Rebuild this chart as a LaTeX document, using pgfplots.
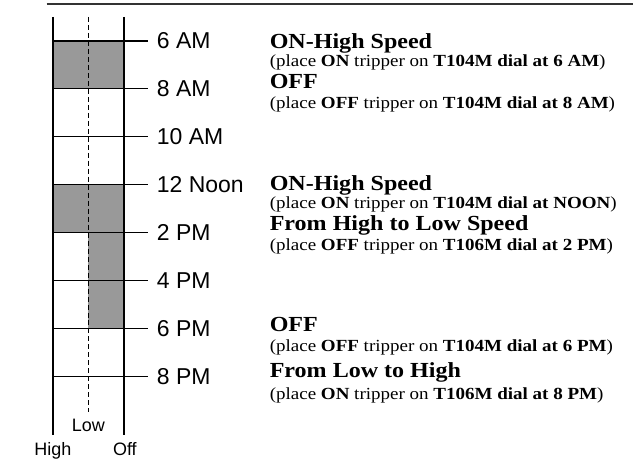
\documentclass[border=0pt]{standalone}
\usepackage{pgfplots}
\pgfplotsset{compat=1.18}
\usepackage{fontspec}
\setmainfont{Liberation Serif}
\newfontfamily\serifw{Liberation Serif}[FakeStretch=1.12]
\newfontfamily\sansf{Liberation Sans}
\definecolor{barfill}{RGB}{153,153,153}
\definecolor{rulegray}{RGB}{51,51,51}
\newcommand{\hdfont}{\serifw\bfseries\fontsize{21.5pt}{21.5pt}\selectfont}
\newcommand{\subfont}{\serifw\fontsize{17pt}{17pt}\selectfont}
\newcommand{\tlfont}{\sansf\fontsize{23pt}{23pt}\selectfont}
\newcommand{\smfont}{\sansf\fontsize{18pt}{18pt}\selectfont}
\begin{document}
\begin{tikzpicture}
\begin{axis}[
  width=634pt, height=460pt, scale only axis,
  xmin=-1.49296, xmax=16.3662,
  ymin=4.29167, ymax=23.4583, y dir=reverse,
  hide axis, clip=false,
]
\path (rel axis cs:0,0) rectangle (rel axis cs:1,1);
% top rule
\addplot[rulegray, line width=2pt] coordinates {(-0.1775,4.4583) (16.3662,4.4583)};
% schedule: 0 = High, 1 = Low, 2 = Off
\addplot[fill=barfill, draw=none] coordinates {(0,6) (2,6) (2,8) (0,8)};
\addplot[fill=barfill, draw=none] coordinates {(0,12) (2,12) (2,14) (0,14)};
\addplot[fill=barfill, draw=none] coordinates {(1,14) (2,14) (2,18) (1,18)};
% Low dashed line
\addplot[black, line width=1.1pt, dash pattern=on 5pt off 3pt] coordinates {(1,5.0) (1,21.5)};
% hour lines
\pgfplotsinvokeforeach{6,8,10,12,14,16,18,20}{
  \addplot[black, line width=1.2pt] coordinates {(0,#1) (2.676,#1)};
}
% High and Off lines
\addplot[black, line width=2.6pt] coordinates {(0,5.0) (0,22.458)};
\addplot[black, line width=2.6pt] coordinates {(2,5.0) (2,22.458)};
% hour labels
\node[anchor=west, inner sep=0, font=\tlfont] at (axis cs:2.93,6) {6 AM};
\node[anchor=west, inner sep=0, font=\tlfont] at (axis cs:2.93,8) {8 AM};
\node[anchor=west, inner sep=0, font=\tlfont] at (axis cs:2.93,10) {10 AM};
\node[anchor=west, inner sep=0, font=\tlfont] at (axis cs:2.93,12) {12 Noon};
\node[anchor=west, inner sep=0, font=\tlfont] at (axis cs:2.93,14) {2 PM};
\node[anchor=west, inner sep=0, font=\tlfont] at (axis cs:2.93,16) {4 PM};
\node[anchor=west, inner sep=0, font=\tlfont] at (axis cs:2.93,18) {6 PM};
\node[anchor=west, inner sep=0, font=\tlfont] at (axis cs:2.93,20) {8 PM};
% bottom labels
\node[anchor=base, inner sep=0, font=\smfont] at (axis cs:1,22.279) {Low};
\node[anchor=base, inner sep=0, font=\smfont] at (axis cs:0,23.2917) {High};
\node[anchor=base, inner sep=0, font=\smfont] at (axis cs:2.03,23.2917) {Off};
% instructions
\node[anchor=base west, inner sep=0, font=\hdfont] at (axis cs:6.113,6.3333) {ON-High Speed};
\node[anchor=base west, inner sep=0, font=\subfont] at (axis cs:6.113,7.0833) {(place \textbf{ON} tripper on \textbf{T104M dial at 6 AM})};
\node[anchor=base west, inner sep=0, font=\hdfont] at (axis cs:6.113,8.0) {OFF};
\node[anchor=base west, inner sep=0, font=\subfont] at (axis cs:6.113,8.8333) {(place \textbf{OFF} tripper on \textbf{T104M dial at 8 AM})};
\node[anchor=base west, inner sep=0, font=\hdfont] at (axis cs:6.113,12.25) {ON-High Speed};
\node[anchor=base west, inner sep=0, font=\subfont] at (axis cs:6.113,13.0) {(place \textbf{ON} tripper on \textbf{T104M dial at NOON})};
\node[anchor=base west, inner sep=0, font=\hdfont] at (axis cs:6.113,13.9167) {From High to Low Speed};
\node[anchor=base west, inner sep=0, font=\subfont] at (axis cs:6.113,14.75) {(place \textbf{OFF} tripper on \textbf{T106M dial at 2 PM})};
\node[anchor=base west, inner sep=0, font=\hdfont] at (axis cs:6.113,18.125) {OFF};
\node[anchor=base west, inner sep=0, font=\subfont] at (axis cs:6.113,18.9583) {(place \textbf{OFF} tripper on \textbf{T104M dial at 6 PM})};
\node[anchor=base west, inner sep=0, font=\hdfont] at (axis cs:6.113,20.0417) {From Low to High};
\node[anchor=base west, inner sep=0, font=\subfont] at (axis cs:6.113,20.9583) {(place \textbf{ON} tripper on \textbf{T106M dial at 8 PM})};
\end{axis}
\end{tikzpicture}
\end{document}
